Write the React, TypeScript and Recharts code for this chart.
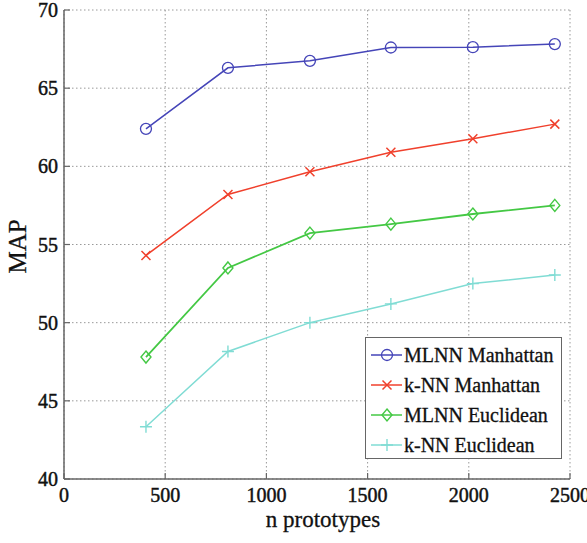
import React from "react";
import { LineChart, Line, XAxis, YAxis, CartesianGrid } from "recharts";

const xValues = [405, 810, 1215, 1615, 2020, 2425];
const mlnnManhattan = [62.4, 66.3, 66.75, 67.6, 67.62, 67.82];
const knnManhattan = [54.3, 58.2, 59.65, 60.9, 61.77, 62.7];
const mlnnEuclidean = [47.8, 53.5, 55.73, 56.3, 56.95, 57.5];
const knnEuclidean = [43.34, 48.16, 50.0, 51.2, 52.5, 53.05];
const xTicks = [0, 500, 1000, 1500, 2000, 2500];
const yTicks = [40, 45, 50, 55, 60, 65, 70];
const seriesNames = ["MLNN Manhattan", "k-NN Manhattan", "MLNN Euclidean", "k-NN Euclidean"];

const data = xValues.map((x, i) => ({
  x,
  mm: mlnnManhattan[i],
  km: knnManhattan[i],
  me: mlnnEuclidean[i],
  ke: knnEuclidean[i],
}));

const FONT = "'Liberation Serif', 'Times New Roman', serif";
const AXIS = "#666";
const BLUE = "#4545b8";
const RED = "#f0402c";
const GREEN = "#44c844";
const CYAN = "#80dcd4";

const Circle = ({ cx, cy, stroke }: any) => (
  <circle cx={cx} cy={cy} r={5.5} fill="none" stroke={stroke} strokeWidth={1.3} />
);
const Cross = ({ cx, cy, stroke }: any) => (
  <path d={`M${cx - 4.5},${cy - 4.5}L${cx + 4.5},${cy + 4.5}M${cx - 4.5},${cy + 4.5}L${cx + 4.5},${cy - 4.5}`} stroke={stroke} strokeWidth={1.5} fill="none" />
);
const Diamond = ({ cx, cy, stroke }: any) => (
  <path d={`M${cx},${cy - 6}L${cx + 5},${cy}L${cx},${cy + 6}L${cx - 5},${cy}Z`} stroke={stroke} strokeWidth={1.4} fill="none" />
);
const Plus = ({ cx, cy, stroke }: any) => (
  <path d={`M${cx - 6},${cy}L${cx + 6},${cy}M${cx},${cy - 6}L${cx},${cy + 6}`} stroke={stroke} strokeWidth={1.4} fill="none" />
);

const textProps = { fontFamily: FONT, fill: "#111", stroke: "#111", strokeWidth: 0.45 };

const LeftTick = ({ x, y, payload }: any) => (
  <g>
    <text x={x} y={y} dy={7} textAnchor="end" fontSize={20} {...textProps}>{payload.value}</text>
    <line x1={x + 6} x2={x + 12} y1={y} y2={y} stroke={AXIS} strokeWidth={1.2} />
  </g>
);
const BottomTick = ({ x, y, payload }: any) => (
  <g>
    <text x={x} y={y} dy={15} textAnchor="middle" fontSize={20} {...textProps}>{payload.value}</text>
    <line x1={x} x2={x} y1={y - 8} y2={y - 14} stroke={AXIS} strokeWidth={1.2} />
  </g>
);
const TopTick = ({ x, y }: any) => (
  <line x1={x} x2={x} y1={y} y2={y + 6} stroke={AXIS} strokeWidth={1.2} />
);
const RightTick = ({ x, y }: any) => (
  <line x1={x - 6} x2={x} y1={y} y2={y} stroke={AXIS} strokeWidth={1.2} />
);

const XLabel = ({ viewBox }: any) => (
  <text x={viewBox.x + viewBox.width / 2 + 6} y={viewBox.y + viewBox.height - 16} textAnchor="middle" fontSize={23} fontFamily={FONT} fill="#111" stroke="#111" strokeWidth={0.3}>
    n prototypes
  </text>
);
const YLabel = ({ viewBox }: any) => {
  const cx = viewBox.x + 26;
  const cy = viewBox.y + viewBox.height / 2 + 2;
  return (
    <text x={cx} y={cy} transform={`rotate(-90 ${cx} ${cy})`} textAnchor="middle" fontSize={25} fontFamily={FONT} fill="#111" stroke="#111" strokeWidth={0.3}>
      MAP
    </text>
  );
};

const legendItems = [
  { name: seriesNames[0], color: BLUE, M: Circle },
  { name: seriesNames[1], color: RED, M: Cross },
  { name: seriesNames[2], color: GREEN, M: Diamond },
  { name: seriesNames[3], color: CYAN, M: Plus },
];

export default function App() {
  return (
    <div style={{ position: "absolute", left: 0, top: 0, width: 587, height: 543, background: "#fff" }}>
      <LineChart width={587} height={543} data={data} margin={{ top: 10, right: 17, bottom: 0, left: 0 }}>
        <CartesianGrid stroke="#999" strokeDasharray="1.5 2.5" strokeWidth={1} />
        <XAxis
          dataKey="x"
          type="number"
          domain={[0, 2500]}
          ticks={xTicks}
          height={64}
          tickSize={0}
          tickMargin={8}
          tickLine={false}
          axisLine={{ stroke: AXIS, strokeWidth: 1.5 }}
          tick={<BottomTick />}
          interval={0}
          label={<XLabel />}
        />
        <XAxis
          xAxisId="top"
          orientation="top"
          dataKey="x"
          type="number"
          domain={[0, 2500]}
          ticks={xTicks}
          height={0}
          tickSize={0}
          tickMargin={0}
          tickLine={false}
          axisLine={{ stroke: AXIS, strokeWidth: 1.5 }}
          tick={<TopTick />}
          interval={0}
        />
        <YAxis
          type="number"
          domain={[40, 70]}
          ticks={yTicks}
          width={64}
          tickSize={0}
          tickMargin={6}
          tickLine={false}
          axisLine={{ stroke: AXIS, strokeWidth: 1.5 }}
          tick={<LeftTick />}
          interval={0}
          label={<YLabel />}
        />
        <YAxis
          yAxisId="right"
          orientation="right"
          type="number"
          domain={[40, 70]}
          ticks={yTicks}
          width={0}
          tickSize={0}
          tickMargin={0}
          tickLine={false}
          axisLine={{ stroke: AXIS, strokeWidth: 1.5 }}
          tick={<RightTick />}
          interval={0}
        />
        <Line dataKey="mm" name={seriesNames[0]} stroke={BLUE} strokeWidth={1.5} dot={<Circle />} isAnimationActive={false} />
        <Line dataKey="km" name={seriesNames[1]} stroke={RED} strokeWidth={1.5} dot={<Cross />} isAnimationActive={false} />
        <Line dataKey="me" name={seriesNames[2]} stroke={GREEN} strokeWidth={1.8} dot={<Diamond />} isAnimationActive={false} />
        <Line dataKey="ke" name={seriesNames[3]} stroke={CYAN} strokeWidth={1.5} dot={<Plus />} isAnimationActive={false} />
      </LineChart>
      <div
        style={{
          position: "absolute",
          left: 365,
          top: 337,
          width: 197,
          height: 122,
          boxSizing: "border-box",
          border: `1.5px solid ${AXIS}`,
          background: "#fff",
          paddingTop: 2,
          fontFamily: FONT,
          fontSize: 20,
          color: "#111",
          WebkitTextStroke: "0.3px #111",
        }}
      >
        {legendItems.map((it) => (
          <div key={it.name} style={{ height: 30, display: "flex", alignItems: "center" }}>
            <svg width={38} height={30} style={{ display: "block", flex: "none" }}>
              <line x1={5} x2={36} y1={15} y2={15} stroke={it.color} strokeWidth={1.5} />
              <it.M cx={21} cy={15} stroke={it.color} />
            </svg>
            <span style={{ whiteSpace: "nowrap", lineHeight: "30px" }}>{it.name}</span>
          </div>
        ))}
      </div>
    </div>
  );
}
